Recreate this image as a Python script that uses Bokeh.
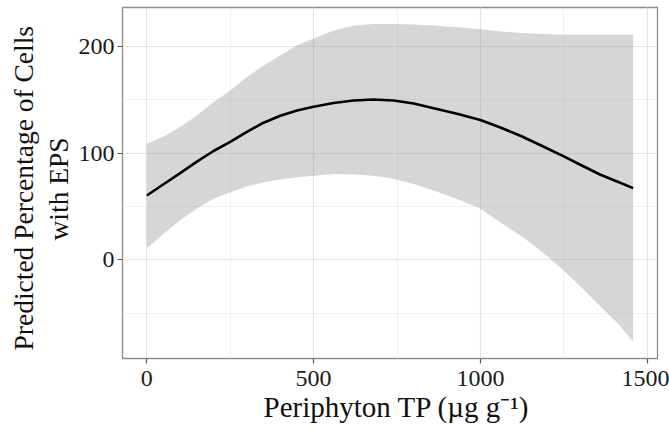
from bokeh.plotting import figure
from bokeh.models import Range1d, SingleIntervalTicker, Title
from bokeh.embed import file_html
from bokeh.resources import INLINE

# Periphyton TP (x) and predicted percentage with 95% band
tp = [0, 50, 100, 150, 200, 250, 300, 350, 400, 450, 500, 560, 620, 680, 740, 800,
      860, 930, 1000, 1060, 1125, 1190, 1250, 1310, 1360, 1410, 1458]
fit = [60.3, 70.8, 81.3, 92.0, 102.0, 110.5, 120.0, 128.5, 135.0, 140.0, 143.5, 147.0,
       149.4, 150.2, 149.4, 146.5, 142.0, 137.0, 131.0, 124.0, 115.6, 106.0, 96.9, 87.5,
       79.7, 73.4, 67.2]
upper = [108.7, 115.6, 124.4, 135.3, 147.8, 158.8, 171.2, 182.2, 191.6, 201.0, 207.5, 215.0,
         219.7, 221.0, 221.0, 220.5, 219.7, 218.0, 216.0, 214.0, 212.5, 211.6, 211.0, 211.0,
         211.0, 211.0, 211.0]
lower = [10.8, 24.4, 37.0, 48.0, 57.2, 63.4, 68.75, 72.8, 75.3, 77.5, 78.8, 80.4, 80.0,
         78.75, 76.0, 71.0, 65.0, 57.0, 48.0, 35.0, 21.9, 6.25, -10.0, -28.0, -43.75, -59.0,
         -76.6]

x_label = "Periphyton TP (µg g⁻¹)"
y_label_1 = "Predicted Percentage of Cells"
y_label_2 = "with EPS"

FONT = "Liberation Serif"

p = figure(width=669, height=430, output_backend="svg", toolbar_location=None,
           x_range=Range1d(-73, 1531), y_range=Range1d(-92.5, 236.5),
           min_border_left=122, min_border_right=12, min_border_top=7, min_border_bottom=72)

p.varea(x=tp, y1=lower, y2=upper, fill_color="#999999", fill_alpha=0.4)
p.line(x=tp, y=fit, line_color="black", line_width=2.6)

p.xaxis.ticker = SingleIntervalTicker(interval=500, num_minor_ticks=2)
p.yaxis.ticker = SingleIntervalTicker(interval=100, num_minor_ticks=2)

for ax in (p.xaxis[0], p.yaxis[0]):
    ax.axis_line_color = None
    ax.major_tick_line_color = "#555555"
    ax.major_tick_line_width = 1.2
    ax.major_tick_out = 5
    ax.major_tick_in = 0
    ax.minor_tick_line_color = None
    ax.major_label_text_font = FONT
    ax.major_label_text_font_size = "24px"
    ax.major_label_text_color = "#1a1a1a"

p.xaxis.major_label_standoff = 7
p.yaxis.major_label_standoff = 3

title_style = dict(text_font=FONT, text_font_style="normal", text_color="#111111")
p.add_layout(Title(text=x_label, align="left", offset=141, standoff=0,
                   text_font_size="29px", **title_style), "below")
p.add_layout(Title(text=y_label_2, align="left", offset=118, standoff=4,
                   text_font_size="27.5px", **title_style), "left")
p.add_layout(Title(text=y_label_1, align="left", offset=8, standoff=0,
                   text_font_size="27.5px", **title_style), "left")

for g in (p.xgrid[0], p.ygrid[0]):
    g.grid_line_color = "#e3e3e3"
    g.grid_line_width = 1.2
    g.minor_grid_line_color = "#ececec"
    g.minor_grid_line_width = 0.8

p.outline_line_color = "#8c8c8c"
p.outline_line_width = 1.3
p.background_fill_color = "white"
p.border_fill_color = "white"

open("out.html", "w").write(file_html(p, INLINE))
